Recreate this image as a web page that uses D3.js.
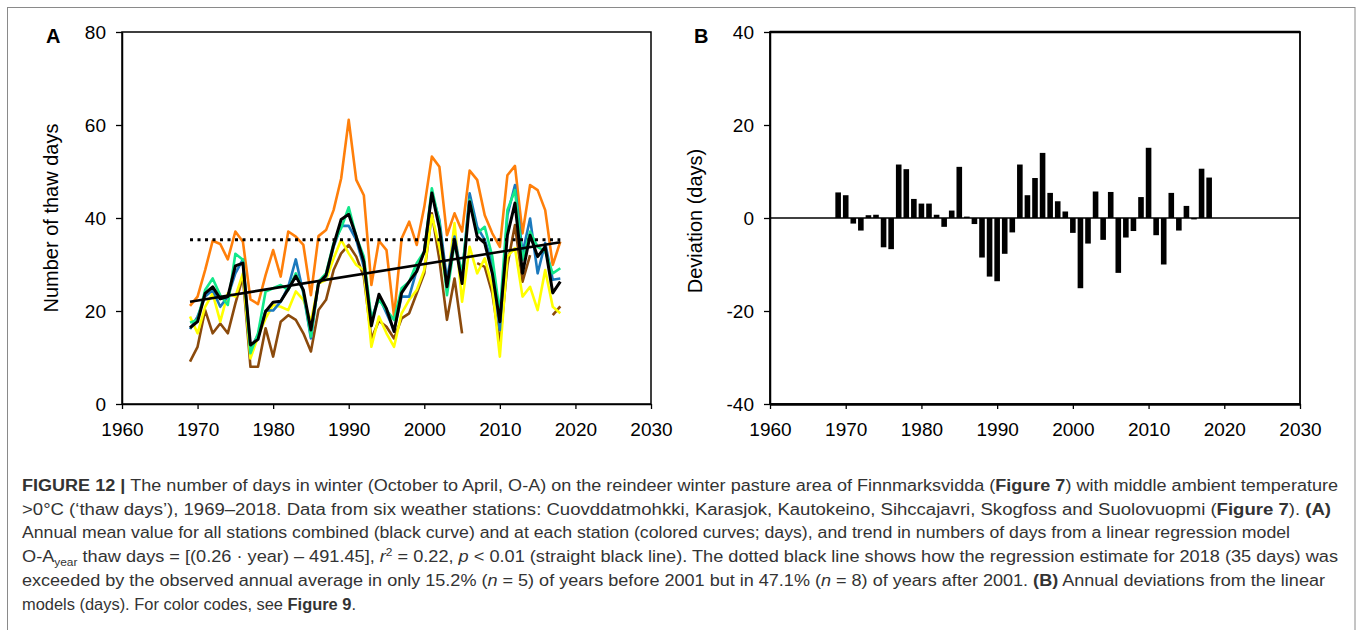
<!DOCTYPE html>
<html>
<head>
<meta charset="utf-8">
<script src="https://cdn.jsdelivr.net/npm/d3@7"></script>
<style>
  body { margin: 0; background: #fff; }
  svg { display: block; font-family: "Liberation Sans", Arial, sans-serif; }
  .caption { white-space: pre; }
</style>
</head>
<body>
<div id="chart"></div>
<script>
// ---------------- data ----------------
const years = d3.range(1969, 2019);

const meanAll = [16.4,17.7,23.8,25.2,22.6,23.1,29.7,30.3,12.7,13.9,
                 19.9,21.9,22.1,24.7,27.5,24.5,15.9,25.9,27.7,34.2,
                 39.7,40.8,36.0,30.6,16.8,23.6,20.5,15.6,23.9,26.3,
                 28.5,32.8,45.4,37.8,25.2,35.3,25.9,43.5,36.0,34.6,
                 28.1,17.7,36.3,43.2,28.1,36.3,31.7,33.8,23.9,26.3];

const orange = [21.1,23.1,28.8,35.1,34.4,31.1,37.1,34.9,22.5,21.5,
                27.7,33.1,27.4,37.1,36.0,34.2,23.4,36.1,37.4,41.7,
                48.5,61.1,48.2,44.9,25.6,35.1,33.1,18.8,35.6,39.2,
                34.2,42.4,53.2,51.0,36.3,41.0,37.1,50.2,48.2,40.6,
                36.7,33.8,49.2,51.2,36.7,47.1,46.0,41.7,29.9,34.9];

const blue = [16.1,18.8,23.1,24.5,20.9,23.1,28.1,31.1,12.0,14.8,
              20.1,20.1,22.0,25.2,31.1,23.8,14.1,26.3,27.4,33.8,
              38.3,38.3,35.3,29.5,18.1,23.1,19.5,15.9,23.1,23.1,
              28.8,32.8,45.3,39.6,26.7,36.0,27.4,45.3,38.1,35.3,
              30.3,15.9,40.6,47.1,32.4,39.9,28.1,34.6,26.7,27.0];

const green = [17.5,18.1,24.5,27.0,23.4,21.3,32.3,31.0,10.9,15.2,
               24.2,24.9,25.6,24.5,28.1,24.2,14.5,26.3,28.1,34.6,
               37.8,42.3,36.0,31.7,18.4,22.4,20.2,18.1,24.9,26.3,
               30.3,32.8,46.4,38.9,23.4,34.6,28.1,43.9,36.7,38.1,
               31.7,19.5,41.7,46.0,31.0,37.1,33.8,32.8,28.1,29.2];

const yellow = [18.8,15.2,20.9,23.8,17.7,23.8,23.1,28.1,9.8,14.5,
                18.4,21.3,20.9,20.2,24.2,22.4,17.7,25.9,26.7,31.3,
                35.3,32.4,29.9,28.8,12.3,18.8,15.2,12.3,19.5,22.4,
                24.5,28.8,40.6,33.8,25.2,38.9,22.0,33.8,28.1,31.3,
                25.2,10.2,31.7,33.5,23.1,25.2,20.2,28.8,20.9,19.5];

const brown = [9.1,12.3,20.2,15.2,17.3,15.2,21.6,27.4,8.0,8.0,
               16.3,10.2,17.7,19.1,18.1,15.2,11.3,20.2,22.4,28.8,
               32.4,34.2,31.7,27.4,14.0,17.9,16.6,14.1,18.4,19.5,
               23.8,28.1,41.0,31.0,18.1,27.0,15.2,null,30.3,29.5,
               23.8,13.0,29.9,38.5,26.3,32.0,null,null,19.1,21.0];

const deviation = [5.5,4.9,-1.2,-2.7,0.6,0.7,-6.3,-6.7,11.5,10.5,
                   4.1,3.1,3.1,0.7,-1.9,1.6,11.0,0.3,-1.3,-8.5,
                   -12.6,-13.6,-7.7,-3.1,11.5,4.9,8.6,14.0,5.4,3.6,
                   1.4,-3.2,-15.1,-5.5,5.7,-4.7,5.6,-11.8,-4.2,-2.8,
                   4.5,15.1,-3.7,-10.0,5.4,-2.7,2.6,-0.3,10.6,8.7];

const trendEnds = [{year: 1969, v: 22.0}, {year: 2018, v: 34.8}];
const estimate2018 = [{year: 1969, v: 35.3}, {year: 2018, v: 35.3}];

const xTicks = [1960, 1970, 1980, 1990, 2000, 2010, 2020, 2030];
const yTicksA = [0, 20, 40, 60, 80];
const yTicksB = [-40, -20, 0, 20, 40];

const captionLines = [
  [["FIGURE 12 | ", "b"], ["The number of days in winter (October to April, O-A) on the reindeer winter pasture area of Finnmarksvidda ("], ["Figure 7", "b"], [") with middle ambient temperature"]],
  [[">0°C (‘thaw days’), 1969–2018. Data from six weather stations: Cuovddatmohkki, Karasjok, Kautokeino, Sihccajavri, Skogfoss and Suolovuopmi ("], ["Figure 7", "b"], ["). "], ["(A)", "b"]],
  [["Annual mean value for all stations combined (black curve) and at each station (colored curves; days), and trend in numbers of days from a linear regression model"]],
  [["O-A"], ["year", "sub"], [" thaw days = [(0.26 · year) – 491.45], "], ["r", "i"], ["2", "sup"], [" = 0.22, "], ["p", "i"], [" < 0.01 (straight black line). The dotted black line shows how the regression estimate for 2018 (35 days) was"]],
  [["exceeded by the observed annual average in only 15.2% ("], ["n", "i"], [" = 5) of years before 2001 but in 47.1% ("], ["n", "i"], [" = 8) of years after 2001. "], ["(B)", "b"], [" Annual deviations from the linear"]],
  [["models (days). For color codes, see "], ["Figure 9", "b"], ["."]]
];

// ---------------- layout ----------------
var width = 1360, height = 630;
var plotTop = 32, plotBottom = 404;

var svg = d3.select("#chart").append("svg")
    .attr("width", width)
    .attr("height", height);

svg.append("rect").attr("width", width).attr("height", height).attr("fill", "#fff");

// outer figure border
svg.append("rect")
    .attr("x", 7.5).attr("y", 7.5)
    .attr("width", 1347.5).attr("height", 700)
    .attr("fill", "none")
    .attr("stroke", "#8a8a8a")
    .attr("stroke-width", 1);

var xA = d3.scaleLinear().domain([1960, 2030]).range([122, 651]);
var yA = d3.scaleLinear().domain([0, 80]).range([plotBottom, plotTop]);
var xB = d3.scaleLinear().domain([1960, 2030]).range([770, 1300]);
var yB = d3.scaleLinear().domain([-40, 40]).range([plotBottom, plotTop]);

var plainFmt = function (d) { return String(d); };   // hyphen minus, like the original

function styleAxis(g, sw) {
    g.selectAll("text").attr("fill", "#000").style("font-size", "19px")
        .style("font-family", "'Liberation Sans', Arial, sans-serif");
    g.selectAll("line").attr("stroke", "#000").attr("stroke-width", 1.3);
    g.select(".domain").attr("stroke", "#000").attr("stroke-width", sw);
}

/*********************** Panel A *********************/
var gA = svg.append("g");

gA.append("rect")
    .attr("x", xA(1960)).attr("y", yA(80))
    .attr("width", xA(2030) - xA(1960))
    .attr("height", yA(0) - yA(80))
    .attr("fill", "none")
    .attr("stroke", "#000")
    .attr("stroke-width", 1.5);

var stations = [
    {values: orange, color: "#ff7f0a"},
    {values: brown, color: "#8b4a0c"},
    {values: yellow, color: "#ffff00"},
    {values: blue, color: "#1b79bd"},
    {values: green, color: "#12e88a"}
];

var stationLine = d3.line()
    .defined(function (d) { return d.v != null; })
    .x(function (d) { return xA(d.year); })
    .y(function (d) { return yA(d.v); });

stations.forEach(function (s) {
    var pts = years.map(function (yr, i) { return {year: yr, v: s.values[i]}; });
    gA.append("path")
        .datum(pts)
        .attr("d", stationLine)
        .attr("fill", "none")
        .attr("stroke", s.color)
        .attr("stroke-width", 2.6)
        .attr("stroke-linejoin", "round");
});

var simpleLine = d3.line()
    .x(function (d) { return xA(d.year); })
    .y(function (d) { return yA(d.v); });

gA.append("path")
    .datum(estimate2018)
    .attr("d", simpleLine)
    .attr("fill", "none")
    .attr("stroke", "#000")
    .attr("stroke-width", 3)
    .attr("stroke-dasharray", "3,4.5");

gA.append("path")
    .datum(years.map(function (yr, i) { return {year: yr, v: meanAll[i]}; }))
    .attr("d", simpleLine)
    .attr("fill", "none")
    .attr("stroke", "#000")
    .attr("stroke-width", 3)
    .attr("stroke-linejoin", "round");

gA.append("path")
    .datum(trendEnds)
    .attr("d", simpleLine)
    .attr("fill", "none")
    .attr("stroke", "#000")
    .attr("stroke-width", 2.6);

gA.append("g")
    .attr("transform", "translate(0," + yA(0) + ")")
    .call(d3.axisBottom(xA).tickValues(xTicks).tickFormat(plainFmt)
        .tickSize(5).tickSizeOuter(0).tickPadding(14))
    .call(styleAxis, 1.5);

gA.append("g")
    .attr("transform", "translate(" + xA(1960) + ",0)")
    .call(d3.axisLeft(yA).tickValues(yTicksA).tickFormat(plainFmt)
        .tickSize(6).tickSizeOuter(0).tickPadding(10))
    .call(styleAxis, 1.5);

gA.append("text")
    .attr("transform", "translate(58," + ((plotTop + plotBottom) / 2) + ") rotate(-90)")
    .attr("text-anchor", "middle")
    .style("font-size", "20px")
    .text("Number of thaw days");

gA.append("text")
    .attr("x", 46).attr("y", 43)
    .style("font-size", "20px").style("font-weight", "bold")
    .text("A");

/*********************** Panel B *********************/
var gB = svg.append("g");

gB.append("rect")
    .attr("x", xB(1960)).attr("y", yB(40))
    .attr("width", xB(2030) - xB(1960))
    .attr("height", yB(-40) - yB(40))
    .attr("fill", "none")
    .attr("stroke", "#000")
    .attr("stroke-width", 1.8);

gB.append("line")
    .attr("x1", xB(1960)).attr("x2", xB(2030))
    .attr("y1", yB(40)).attr("y2", yB(40))
    .attr("stroke", "#000").attr("stroke-width", 2.6);

gB.append("line")
    .attr("x1", xB(1960)).attr("x2", xB(2030))
    .attr("y1", yB(0)).attr("y2", yB(0))
    .attr("stroke", "#000").attr("stroke-width", 1.5);

var barW = 5.6;
gB.selectAll("rect.bar")
    .data(years.map(function (yr, i) { return {year: yr, v: deviation[i]}; }))
    .enter().append("rect")
    .attr("class", "bar")
    .attr("x", function (d) { return xB(d.year) - barW / 2; })
    .attr("width", barW)
    .attr("y", function (d) { return yB(Math.max(0, d.v)); })
    .attr("height", function (d) { return Math.abs(yB(d.v) - yB(0)); })
    .attr("fill", "#000");

gB.append("g")
    .attr("transform", "translate(0," + yB(-40) + ")")
    .call(d3.axisBottom(xB).tickValues(xTicks).tickFormat(plainFmt)
        .tickSize(5).tickSizeOuter(0).tickPadding(14))
    .call(styleAxis, 2.6);

gB.append("g")
    .attr("transform", "translate(" + xB(1960) + ",0)")
    .call(d3.axisLeft(yB).tickValues(yTicksB).tickFormat(plainFmt)
        .tickSize(6).tickSizeOuter(0).tickPadding(10))
    .call(styleAxis, 1.5);

gB.append("text")
    .attr("transform", "translate(702," + ((plotTop + plotBottom) / 2 + 3) + ") rotate(-90)")
    .attr("text-anchor", "middle")
    .style("font-size", "20px")
    .text("Deviation (days)");

gB.append("text")
    .attr("x", 694).attr("y", 43)
    .style("font-size", "20px").style("font-weight", "bold")
    .text("B");

/*********************** Caption *********************/
var capX = 22, capY0 = 491, capStep = 23.7;
var capEnds = [1338, 1331, 1290, 1338, 1325, 356];

captionLines.forEach(function (segs, li) {
    var t = svg.append("text")
        .attr("class", "caption")
        .attr("x", capX)
        .attr("y", capY0 + li * capStep)
        .attr("fill", "#333")
        .style("font-size", "16px");
    if (capEnds[li]) {
        t.attr("textLength", capEnds[li] - capX).attr("lengthAdjust", "spacingAndGlyphs");
    }
    var shift = 0;
    segs.forEach(function (s) {
        var ts = t.append("tspan").text(s[0]);
        var style = s[1];
        var dy = 0;
        if (style === "b") ts.style("font-weight", "bold");
        if (style === "i") ts.style("font-style", "italic");
        if (style === "sub") { ts.style("font-size", "10.5px"); dy = 4; }
        if (style === "sup") { ts.style("font-size", "10.5px"); dy = -6; }
        if (dy - shift !== 0) ts.attr("dy", dy - shift);
        shift = dy;
    });
});
</script>
</body>
</html>
